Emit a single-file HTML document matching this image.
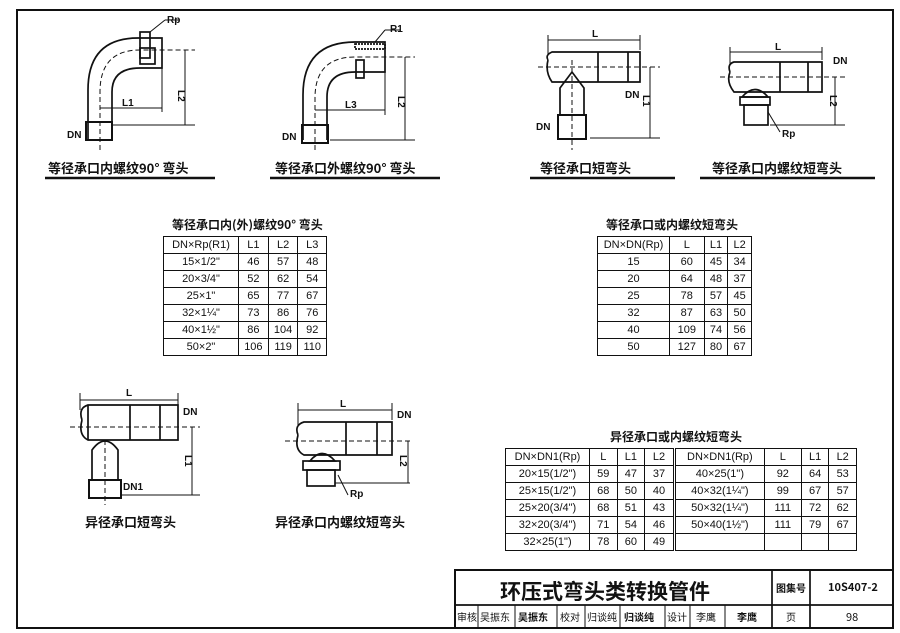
<!DOCTYPE html>
<html><head><meta charset="utf-8"><style>
body{margin:0;background:#fff;}
#w{position:relative;width:900px;height:633px;overflow:hidden;font-family:"Liberation Sans","Noto Sans CJK SC",sans-serif;color:#111;}
table{position:absolute;border-collapse:collapse;font-family:"Liberation Sans","Noto Sans CJK SC",sans-serif;font-size:11px;}
td{border:1.3px solid #111;text-align:center;padding:0;height:16px;line-height:14px;}
.cap{position:absolute;font-size:13px;font-weight:bold;font-family:"Noto Sans CJK SC",sans-serif;white-space:nowrap;}
</style></head><body><div id="w">
<svg width="900" height="633" style="position:absolute;left:0;top:0" fill="none" stroke="#111" stroke-width="1.7" font-family="Liberation Sans, sans-serif" font-size="11">
<rect x="17" y="10" width="876" height="618" stroke-width="2"/>
<rect x="455" y="570" width="438" height="58" stroke-width="2"/>
<line x1="455" y1="605" x2="893" y2="605"/>
<line x1="772" y1="570" x2="772" y2="628"/><line x1="810" y1="570" x2="810" y2="628"/>
<g stroke-width="1"><line x1="478" y1="605" x2="478" y2="628"/><line x1="515" y1="605" x2="515" y2="628"/><line x1="557" y1="605" x2="557" y2="628"/><line x1="585" y1="605" x2="585" y2="628"/><line x1="620" y1="605" x2="620" y2="628"/><line x1="665" y1="605" x2="665" y2="628"/><line x1="690" y1="605" x2="690" y2="628"/><line x1="725" y1="605" x2="725" y2="628"/></g>
<g stroke-width="2.5"><line x1="45" y1="178" x2="215" y2="178"/><line x1="270" y1="178" x2="440" y2="178"/><line x1="530" y1="178" x2="675" y2="178"/><line x1="700" y1="178" x2="875" y2="178"/></g>
<path d="M88 140 V90 Q88 38 138 38 H162 V68 H140 Q112 68 112 92 V140"/>
<rect x="86" y="122" width="26" height="18" stroke-width="2"/>
<rect x="140" y="32" width="10" height="26"/><rect x="140" y="48" width="15" height="16"/>
<path d="M100 150 V92 Q100 50 140 50 H195" stroke-dasharray="5 3" stroke-width="1"/>
<g stroke-width="1"><line x1="185" y1="50" x2="185" y2="125"/><line x1="112" y1="125" x2="195" y2="125"/><line x1="100" y1="108" x2="162" y2="108"/><line x1="162" y1="68" x2="162" y2="112"/><line x1="150" y1="32" x2="165" y2="20"/><line x1="165" y1="20" x2="180" y2="20"/></g>
<path d="M303 140 V95 Q303 42 355 42 H385 V72 H355 Q327 72 327 97 V140"/>
<rect x="302" y="125" width="26" height="18" stroke-width="2"/>
<rect x="355" y="44" width="30" height="5" stroke-dasharray="2 1"/><rect x="356" y="60" width="8" height="18"/>
<path d="M315 150 V98 Q315 57 355 57 H415" stroke-dasharray="5 3" stroke-width="1"/>
<g stroke-width="1"><line x1="405" y1="57" x2="405" y2="140"/><line x1="330" y1="140" x2="415" y2="140"/><line x1="315" y1="110" x2="385" y2="110"/><line x1="385" y1="72" x2="385" y2="115"/><line x1="375" y1="42" x2="385" y2="30"/><line x1="385" y1="30" x2="400" y2="30"/></g>
<path d="M548 60 Q545 72 552 82 H640 V52 H552 Q545 55 548 60"/><line x1="598" y1="52" x2="598" y2="82"/><line x1="628" y1="52" x2="628" y2="82"/>
<path d="M560 88 L572 72 L584 88 V115 H560 Z"/><rect x="558" y="115" width="28" height="24" stroke-width="2"/>
<g stroke-width="1"><line x1="538" y1="67" x2="660" y2="67" stroke-dasharray="5 3"/><line x1="572" y1="60" x2="572" y2="150" stroke-dasharray="5 3"/><line x1="548" y1="40" x2="640" y2="40"/><line x1="548" y1="35" x2="548" y2="55"/><line x1="640" y1="35" x2="640" y2="50"/><line x1="650" y1="67" x2="650" y2="138"/><line x1="590" y1="138" x2="660" y2="138"/></g>
<path d="M730 72 Q726 82 734 92 H822 V62 H734 Q727 64 730 72"/><line x1="780" y1="62" x2="780" y2="92"/><line x1="808" y1="62" x2="808" y2="92"/>
<path d="M742 97 Q755 82 768 97 Z"/><rect x="740" y="97" width="30" height="8"/><rect x="744" y="105" width="24" height="20"/>
<g stroke-width="1"><line x1="720" y1="77" x2="845" y2="77" stroke-dasharray="5 3"/><line x1="730" y1="52" x2="822" y2="52"/><line x1="730" y1="47" x2="730" y2="65"/><line x1="822" y1="47" x2="822" y2="60"/><line x1="835" y1="77" x2="835" y2="125"/><line x1="770" y1="125" x2="845" y2="125"/><line x1="768" y1="112" x2="780" y2="132"/></g>
<path d="M82 420 Q78 435 88 440 H178 V405 H88 Q78 408 82 420"/><line x1="88" y1="405" x2="88" y2="440"/><line x1="130" y1="405" x2="130" y2="440"/><line x1="160" y1="405" x2="160" y2="440"/>
<path d="M92 450 Q105 432 118 450 V480 H92 Z"/><rect x="89" y="480" width="32" height="18" stroke-width="2"/>
<g stroke-width="1"><line x1="70" y1="427" x2="200" y2="427" stroke-dasharray="5 3"/><line x1="105" y1="440" x2="105" y2="505" stroke-dasharray="5 3"/><line x1="80" y1="400" x2="178" y2="400"/><line x1="80" y1="393" x2="80" y2="410"/><line x1="178" y1="393" x2="178" y2="405"/><line x1="192" y1="427" x2="192" y2="495"/><line x1="122" y1="495" x2="200" y2="495"/></g>
<path d="M298 435 Q294 450 304 455 H392 V422 H304 Q294 425 298 435"/><line x1="346" y1="422" x2="346" y2="455"/><line x1="377" y1="422" x2="377" y2="455"/>
<path d="M310 461 Q322 446 335 461 Z"/><rect x="303" y="461" width="37" height="9"/><rect x="307" y="470" width="28" height="16"/>
<g stroke-width="1"><line x1="285" y1="441" x2="410" y2="441" stroke-dasharray="5 3"/><line x1="298" y1="410" x2="392" y2="410"/><line x1="298" y1="403" x2="298" y2="425"/><line x1="392" y1="403" x2="392" y2="420"/><line x1="408" y1="441" x2="408" y2="483"/><line x1="335" y1="483" x2="410" y2="483"/><line x1="338" y1="475" x2="348" y2="495"/></g>
<g fill="#111" stroke="none" font-size="10" font-weight="bold">
<text x="167" y="23">Rp</text><text x="67" y="138">DN</text><text x="122" y="106">L1</text><text x="178" y="90" transform="rotate(90 178 90)">L2</text>
<text x="390" y="32">R1</text><text x="282" y="140">DN</text><text x="345" y="108">L3</text><text x="398" y="96" transform="rotate(90 398 96)">L2</text>
<text x="592" y="37">L</text><text x="625" y="98">DN</text><text x="643" y="95" transform="rotate(90 643 95)">L1</text><text x="536" y="130">DN</text>
<text x="775" y="50">L</text><text x="833" y="64">DN</text><text x="830" y="95" transform="rotate(90 830 95)">L2</text><text x="782" y="137">Rp</text>
<text x="126" y="396">L</text><text x="183" y="415">DN</text><text x="185" y="455" transform="rotate(90 185 455)">L1</text><text x="123" y="490">DN1</text>
<text x="340" y="407">L</text><text x="397" y="418">DN</text><text x="400" y="455" transform="rotate(90 400 455)">L2</text><text x="350" y="497">Rp</text>
</g>
</svg>
<div class="cap" style="left:48px;top:158px">等径承口内螺纹90° 弯头</div>
<div class="cap" style="left:275px;top:158px">等径承口外螺纹90° 弯头</div>
<div class="cap" style="left:540px;top:158px">等径承口短弯头</div>
<div class="cap" style="left:712px;top:158px">等径承口内螺纹短弯头</div>
<div class="cap" style="left:172px;top:216px;font-size:12px">等径承口内(外)螺纹90° 弯头</div>
<div class="cap" style="left:606px;top:216px;font-size:12px">等径承口或内螺纹短弯头</div>
<div class="cap" style="left:610px;top:428px;font-size:12px">异径承口或内螺纹短弯头</div>
<div class="cap" style="left:85px;top:512px">异径承口短弯头</div>
<div class="cap" style="left:275px;top:512px">异径承口内螺纹短弯头</div>
<table style="left:163px;top:236px;width:164px"><tr><td style="width:74px">DN×Rp(R1)</td><td>L1</td><td>L2</td><td>L3</td></tr>
<tr><td>15×1/2"</td><td>46</td><td>57</td><td>48</td></tr><tr><td>20×3/4"</td><td>52</td><td>62</td><td>54</td></tr><tr><td>25×1"</td><td>65</td><td>77</td><td>67</td></tr><tr><td>32×1¼"</td><td>73</td><td>86</td><td>76</td></tr><tr><td>40×1½"</td><td>86</td><td>104</td><td>92</td></tr><tr><td>50×2"</td><td>106</td><td>119</td><td>110</td></tr></table>
<table style="left:597px;top:236px;width:155px"><tr><td style="width:71px">DN×DN(Rp)</td><td>L</td><td>L1</td><td>L2</td></tr>
<tr><td>15</td><td>60</td><td>45</td><td>34</td></tr><tr><td>20</td><td>64</td><td>48</td><td>37</td></tr><tr><td>25</td><td>78</td><td>57</td><td>45</td></tr><tr><td>32</td><td>87</td><td>63</td><td>50</td></tr><tr><td>40</td><td>109</td><td>74</td><td>56</td></tr><tr><td>50</td><td>127</td><td>80</td><td>67</td></tr></table>
<table style="left:505px;top:448px;width:352px"><tr><td style="width:83px">DN×DN1(Rp)</td><td>L</td><td>L1</td><td style="border-right:3px double #111">L2</td><td style="width:88px">DN×DN1(Rp)</td><td>L</td><td>L1</td><td>L2</td></tr>
<tr><td>20×15(1/2")</td><td>59</td><td>47</td><td style="border-right:3px double #111">37</td><td>40×25(1")</td><td>92</td><td>64</td><td>53</td></tr>
<tr><td>25×15(1/2")</td><td>68</td><td>50</td><td style="border-right:3px double #111">40</td><td>40×32(1¼")</td><td>99</td><td>67</td><td>57</td></tr>
<tr><td>25×20(3/4")</td><td>68</td><td>51</td><td style="border-right:3px double #111">43</td><td>50×32(1¼")</td><td>111</td><td>72</td><td>62</td></tr>
<tr><td>32×20(3/4")</td><td>71</td><td>54</td><td style="border-right:3px double #111">46</td><td>50×40(1½")</td><td>111</td><td>79</td><td>67</td></tr>
<tr><td>32×25(1")</td><td>78</td><td>60</td><td style="border-right:3px double #111">49</td><td></td><td></td><td></td><td></td></tr></table>
<div class="cap" style="left:500px;top:576px;font-size:21px">环压式弯头类转换管件</div>
<div class="cap" style="left:776px;top:580px;font-size:10px">图集号</div>
<div class="cap" style="left:828px;top:579px;font-size:11px">10S407-2</div>
<div style="position:absolute;top:609px;left:456px;font-size:10px;font-family:'Noto Sans CJK SC',sans-serif;white-space:nowrap">
<span style="position:absolute;left:1px">审核</span><span style="position:absolute;left:24px">吴振东</span><span style="position:absolute;left:62px;font-weight:bold">吴振东</span><span style="position:absolute;left:104px">校对</span><span style="position:absolute;left:131px">归谈纯</span><span style="position:absolute;left:168px;font-weight:bold">归谈纯</span><span style="position:absolute;left:211px">设计</span><span style="position:absolute;left:240px">李鹰</span><span style="position:absolute;left:281px;font-weight:bold">李鹰</span><span style="position:absolute;left:330px">页</span><span style="position:absolute;left:390px;font-size:11px">98</span></div>
</div></body></html>
